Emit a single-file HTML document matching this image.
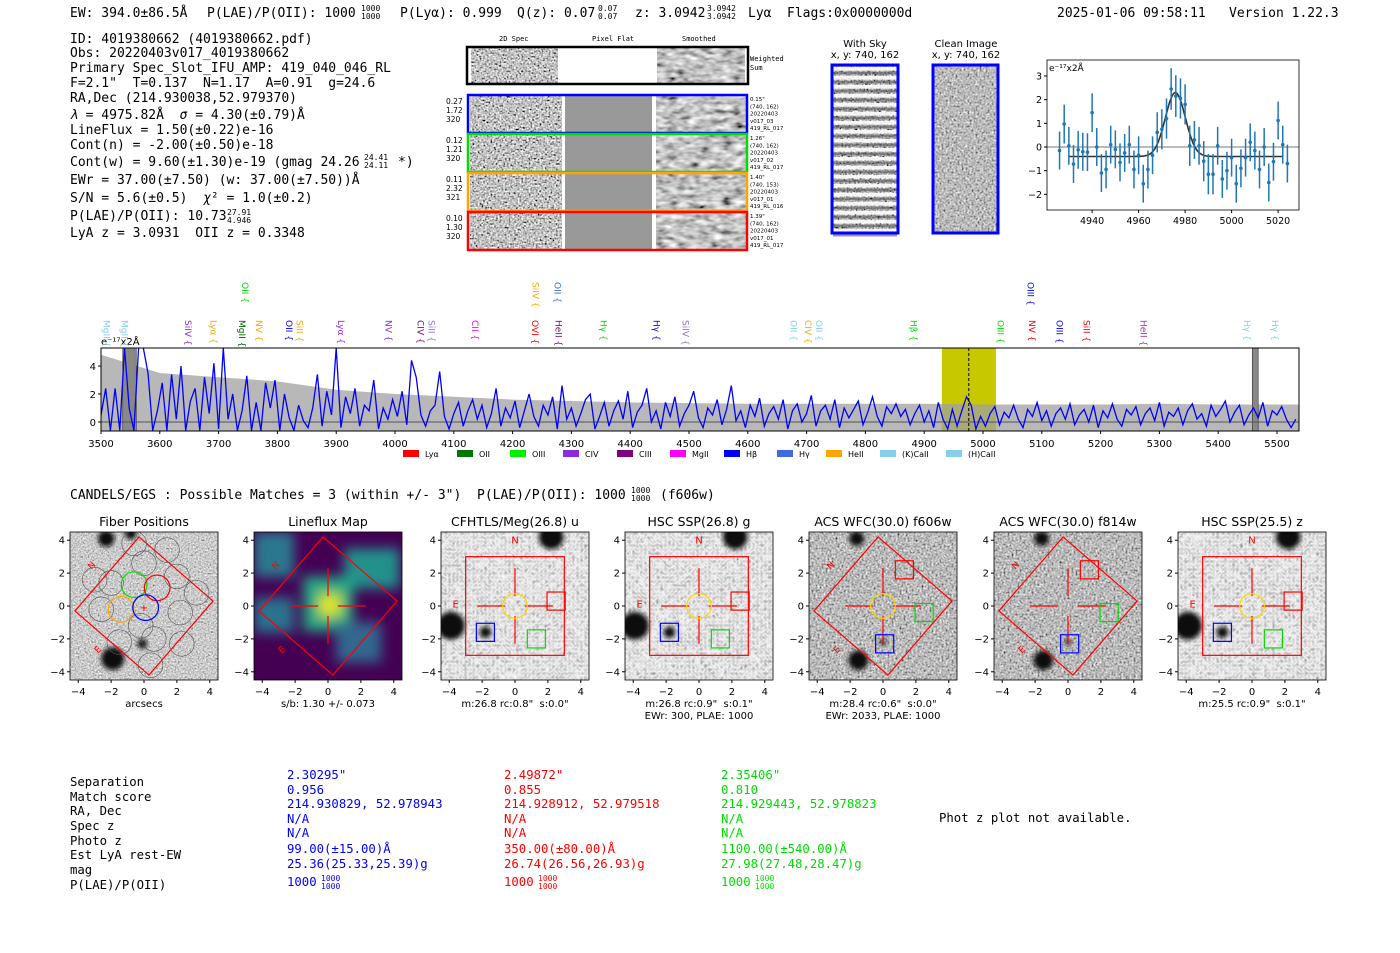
<!DOCTYPE html>
<html><head><meta charset="utf-8"><style>
html,body{margin:0;padding:0;background:#fff;width:1400px;height:953px;overflow:hidden}
svg text{font-family:"DejaVu Sans Mono","Liberation Mono",monospace;white-space:pre}
.sans{font-family:"DejaVu Sans","Liberation Sans",sans-serif}
</style></head><body>
<svg id="root" width="1400" height="953" viewBox="0 0 1400 953" xmlns="http://www.w3.org/2000/svg" xml:space="preserve">
<defs>
<filter id="nzFine" x="0" y="0" width="100%" height="100%"><feTurbulence type="fractalNoise" baseFrequency="0.55" numOctaves="1" seed="4"/><feColorMatrix type="matrix" values="0.33 0.33 0.33 0 0 0.33 0.33 0.33 0 0 0.33 0.33 0.33 0 0 0 0 0 0 1"/><feComponentTransfer><feFuncR type="linear" slope="3.2" intercept="-1.05"/><feFuncG type="linear" slope="3.2" intercept="-1.05"/><feFuncB type="linear" slope="3.2" intercept="-1.05"/></feComponentTransfer></filter>
<filter id="nzMid" x="0" y="0" width="100%" height="100%"><feTurbulence type="fractalNoise" baseFrequency="0.5" numOctaves="1" seed="5"/><feColorMatrix type="matrix" values="0.33 0.33 0.33 0 0 0.33 0.33 0.33 0 0 0.33 0.33 0.33 0 0 0 0 0 0 1"/><feComponentTransfer><feFuncR type="linear" slope="2.2" intercept="-0.6"/><feFuncG type="linear" slope="2.2" intercept="-0.6"/><feFuncB type="linear" slope="2.2" intercept="-0.6"/></feComponentTransfer></filter>
<filter id="nzSmooth" x="0" y="0" width="100%" height="100%"><feTurbulence type="fractalNoise" baseFrequency="0.09 0.2" numOctaves="2" seed="7"/><feColorMatrix type="matrix" values="0.33 0.33 0.33 0 0 0.33 0.33 0.33 0 0 0.33 0.33 0.33 0 0 0 0 0 0 1"/><feComponentTransfer><feFuncR type="linear" slope="2.4" intercept="-0.65"/><feFuncG type="linear" slope="2.4" intercept="-0.65"/><feFuncB type="linear" slope="2.4" intercept="-0.65"/></feComponentTransfer></filter>
<filter id="nzLight" x="0" y="0" width="100%" height="100%"><feTurbulence type="fractalNoise" baseFrequency="0.6" numOctaves="2" seed="2"/><feColorMatrix type="matrix" values="0.33 0.33 0.33 0 0 0.33 0.33 0.33 0 0 0.33 0.33 0.33 0 0 0 0 0 0 1"/><feComponentTransfer><feFuncR type="linear" slope="1.8" intercept="-0.3"/><feFuncG type="linear" slope="1.8" intercept="-0.3"/><feFuncB type="linear" slope="1.8" intercept="-0.3"/></feComponentTransfer></filter>
<filter id="nzCoarse" x="0" y="0" width="100%" height="100%"><feTurbulence type="turbulence" baseFrequency="0.25" numOctaves="1" seed="9"/><feColorMatrix type="matrix" values="0.33 0.33 0.33 0 0 0.33 0.33 0.33 0 0 0.33 0.33 0.33 0 0 0 0 0 0 1"/><feComponentTransfer><feFuncR type="linear" slope="-1.3" intercept="0.95"/><feFuncG type="linear" slope="-1.3" intercept="0.95"/><feFuncB type="linear" slope="-1.3" intercept="0.95"/></feComponentTransfer></filter>
<filter id="blur3"><feGaussianBlur stdDeviation="2.5"/></filter>
<filter id="blur6"><feGaussianBlur stdDeviation="6"/></filter>
<clipPath id="specClip"><rect x="101" y="348" width="1198" height="83"/></clipPath>
<clipPath id="fitClip"><rect x="1047" y="60" width="252" height="150"/></clipPath>
</defs>

<g font-size="13" fill="#000">
<text x="70" y="17">EW: 394.0±86.5Å</text>
<text x="207" y="17">P(LAE)/P(OII): 1000</text>
<text x="361" y="11" font-size="8">1000</text><text x="361" y="19" font-size="8">1000</text>
<text x="400" y="17">P(Lyα): 0.999</text>
<text x="517" y="17">Q(z): 0.07</text>
<text x="598" y="11" font-size="8">0.07</text><text x="598" y="19" font-size="8">0.07</text>
<text x="635" y="17">z: 3.0942</text>
<text x="707" y="11" font-size="8">3.0942</text><text x="707" y="19" font-size="8">3.0942</text>
<text x="748" y="17">Lyα</text>
<text x="787" y="17">Flags:0x0000000d</text>
<text x="1057" y="17">2025-01-06 09:58:11</text>
<text x="1229" y="17">Version 1.22.3</text>
</g>

<g font-size="13" fill="#000">
<text x="70" y="43">ID: 4019380662 (4019380662.pdf)</text>
<text x="70" y="57">Obs: 20220403v017_4019380662</text>
<text x="70" y="72">Primary Spec_Slot_IFU_AMP: 419_040_046_RL</text>
<text x="70" y="87">F=2.1"  T=0.137  N=1.17  A=0.91  g=24.6</text>
<text x="70" y="102">RA,Dec (214.930038,52.979370)</text>
<text x="70" y="119"><tspan font-style="italic">λ</tspan> = 4975.82Å  <tspan font-style="italic">σ</tspan> = 4.30(±0.79)Å</text>
<text x="70" y="134">LineFlux = 1.50(±0.22)e-16</text>
<text x="70" y="149">Cont(n) = -2.00(±0.50)e-18</text>
<text x="70" y="166">Cont(w) = 9.60(±1.30)e-19 (gmag 24.26</text>
<text x="398" y="166">*)</text>
<text x="364" y="160" font-size="8">24.41</text><text x="364" y="168" font-size="8">24.11</text>
<text x="70" y="184">EWr = 37.00(±7.50) (w: 37.00(±7.50))Å</text>
<text x="70" y="202">S/N = 5.6(±0.5)  <tspan font-style="italic">χ</tspan>² = 1.0(±0.2)</text>
<text x="70" y="220">P(LAE)/P(OII): 10.73</text>
<text x="227" y="215" font-size="8">27.91</text><text x="227" y="223" font-size="8">4.946</text>
<text x="70" y="237">LyA z = 3.0931  OII z = 0.3348</text>
</g>

<g id="spec2d">
<g class="sans" font-size="7" fill="#000">
<text x="499" y="41">2D Spec</text><text x="592" y="41">Pixel Flat</text><text x="682" y="41">Smoothed</text>
<text x="750" y="61">Weighted</text><text x="750" y="70">Sum</text>
</g>
</g>

<g>
<text class="sans" x="865" y="47" font-size="10" text-anchor="middle">With Sky</text>
<text class="sans" x="865" y="58" font-size="10" text-anchor="middle">x, y: 740, 162</text>
<text class="sans" x="966" y="47" font-size="10" text-anchor="middle">Clean Image</text>
<text class="sans" x="966" y="58" font-size="10" text-anchor="middle">x, y: 740, 162</text>
<g>
<rect x="831" y="64" width="68" height="170" fill="#888" filter="url(#nzFine)"/>
<g id="skyStripes"></g>
<rect x="832" y="65" width="66" height="168" fill="none" stroke="#0000ff" stroke-width="3"/>
</g>
<g>
<rect x="932" y="64" width="67" height="170" fill="#888" filter="url(#nzMid)"/>
<rect x="933" y="65" width="65" height="168" fill="none" stroke="#0000ff" stroke-width="3"/>
</g>
</g>

<g id="fitPlot"></g>
<g id="specPlot"></g>

<g font-size="13">
<text x="70" y="499">CANDELS/EGS : Possible Matches = 3 (within +/- 3")  P(LAE)/P(OII): 1000</text>
<text x="631" y="493" font-size="8">1000</text><text x="631" y="501" font-size="8">1000</text>
<text x="660" y="499">(f606w)</text>
</g>

<g id="cutouts"></g>

<g font-size="12.3">
<g fill="#000">
<text x="70" y="786">Separation</text><text x="70" y="801">Match score</text><text x="70" y="815">RA, Dec</text>
<text x="70" y="830">Spec z</text><text x="70" y="845">Photo z</text><text x="70" y="859">Est LyA rest-EW</text>
<text x="70" y="874">mag</text><text x="70" y="889">P(LAE)/P(OII)</text>
</g>
<g id="tableCols"></g>
<text x="939" y="822" fill="#000">Phot z plot not available.</text>
</g>
</svg>

<script>
const NS='http://www.w3.org/2000/svg';
function mk(tag,attrs,parent){const e=document.createElementNS(NS,tag);for(const k in attrs)e.setAttribute(k,attrs[k]);if(parent)parent.appendChild(e);return e;}

const specStart=3500, specStep=8;
const specFlux=[0.5,2.4,-0.6,2.4,-0.6,5.3,1.0,-0.6,5.3,5.3,
3.5,-0.6,0.8,2.8,-0.6,3.4,0.2,4.0,-0.6,1.5,
2.4,-0.6,3.2,0.6,4.2,-0.5,5.3,0.2,2.0,-0.6,
0.8,3.3,-0.6,1.4,-0.6,2.8,1.0,3.0,-0.6,2.0,
0.3,-0.6,1.2,0.1,-0.4,1.0,3.4,-0.3,2.2,0.5,
5.3,-0.4,1.8,0.6,2.4,-0.3,1.2,0.8,3.0,-0.5,
1.0,0.2,1.6,0.4,2.2,-0.2,4.4,3.2,0.5,-0.3,
0.8,1.2,3.6,0.4,-0.5,0.6,1.4,-0.3,0.8,1.6,
0.2,1.2,-0.4,0.6,2.4,-0.3,1.0,0.3,1.5,-0.4,
0.8,2.0,0.4,-0.3,1.2,0.5,1.8,-0.5,2.6,0.2,
1.0,-0.3,0.6,1.6,2.0,-0.5,0.4,1.4,-0.3,0.8,
1.5,0.2,2.2,-0.4,0.7,1.2,2.4,0.0,0.8,-0.5,
1.4,0.4,1.8,-0.3,0.6,1.2,2.2,0.3,-0.4,1.0,
0.5,1.6,-0.2,0.9,2.6,0.1,0.8,-0.4,1.2,0.4,
1.7,-0.3,0.6,1.1,0.2,1.6,-0.5,0.8,1.3,0.0,
0.6,1.9,-0.3,0.8,1.2,0.2,1.6,-0.4,1.0,0.3,
0.9,1.5,-0.2,0.7,1.8,0.4,-0.3,1.1,0.6,1.3,
0.4,0.9,-0.2,0.6,1.2,0.0,0.8,-0.4,1.4,0.2,
-0.5,0.9,-0.3,0.8,1.8,1.2,-0.5,0.4,-0.3,0.6,
1.1,-0.2,0.7,0.3,1.2,0.2,-0.4,0.9,0.4,1.4,
0.1,0.8,-0.3,0.6,1.0,0.2,1.3,-0.2,0.5,0.9,
0.0,1.2,-0.4,0.8,0.3,1.3,0.2,-0.3,0.9,0.5,
1.1,-0.2,0.6,1.0,0.1,1.4,-0.3,0.7,0.4,1.0,
-0.2,0.8,1.3,0.2,0.6,-0.3,1.2,0.4,0.9,1.5,
0.0,0.7,1.2,-0.2,0.5,1.0,0.3,1.4,-0.3,0.8,
0.5,1.1,0.2,-0.4,0.2];
const errWave=[3500,3600,3700,3800,3900,4000,4100,4200,4300,4400,4500,4600,4700,4800,4900,5000,5100,5200,5300,5400,5500,5537];
const errVal=[4.8,3.5,3.2,2.9,2.3,2.0,1.8,1.6,1.5,1.4,1.35,1.3,1.3,1.3,1.3,1.25,1.25,1.25,1.3,1.25,1.25,1.25];
const specXTicks=[3500,3600,3700,3800,3900,4000,4100,4200,4300,4400,4500,4600,4700,4800,4900,5000,5100,5200,5300,5400,5500];
const specYTicks=[0,2,4];
const lineWave=[3509,3540,3648,3691,3740,3769,3820,3838,3908,3989,4043,4062,4136,4238,4278,4355,4445,4494,4678,4702,4721,4882,5030,5083,5130,5176,5273,5449,5497,3745,4239,4276,5081];
const lineName=["MgII","MgII","SiIV","Lyα","MgII","NV","OII","SiII","Lyα","NV","CIV","SiII","CII","OVI","HeII","Hγ","Hγ","SiIV","OII","CIV","OII","Hβ","OIII","NV","OIII","SiII","HeII","Hγ","Hγ","OII","SiIV","OII","OIII"];
const lineColor=["#87ceeb","#87ceeb","#8a2be2","#ffa500","#006400","#ffa500","#0000ff","#ffa500","#8a2be2","#8a2be2","#800080","#9370db","#ff00ff","#ff0000","#800080","#00dd00","#0000ff","#9370db","#87ceeb","#ffa500","#87ceeb","#00dd00","#00dd00","#ff0000","#0000ff","#ff0000","#9932cc","#87ceeb","#87ceeb","#00dd00","#ffa500","#4169e1","#0000ff"];
const lineRow=[0,0,0,0,0,0,0,0,0,0,0,0,0,0,0,0,0,0,0,0,0,0,0,0,0,0,0,0,0,1,1,1,1];
const legendNames=["Lyα","OII","OIII","CIV","CIII","MgII","Hβ","Hγ","HeII","(K)CaII","(H)CaII"];
const legendColors=["#ff0000","#007700","#00ee00","#8a2be2","#800080","#ff00ff","#0000ff","#4169e1","#ffa500","#87ceeb","#87ceeb"];

const fitWave=[4926,4928,4930,4932,4934,4936,4938,4940,4942,4944,4946,4948,4950,4952,4954,4956,4958,4960,4962,4964,4966,4968,4970,4972,4974,4976,4978,4980,4982,4984,4986,4988,4990,4992,4994,4996,4998,5000,5002,5004,5006,5008,5010,5012,5014,5016,5018,5020,5022,5024];
const fitFlux=[-0.15,0.97,0.05,-0.72,-0.12,-0.2,-0.22,1.45,0.0,-1.1,-0.95,0.1,-0.1,-0.65,-0.25,0.1,-0.95,-0.35,-1.55,-0.95,-0.35,0.62,0.75,1.2,2.45,2.15,2.05,1.8,0.05,0.3,0.05,-0.6,-1.15,-1.15,0.05,-1.35,-1.0,-0.45,-1.55,-0.9,-0.45,0.2,-0.15,-0.95,0.0,-1.5,-0.62,1.12,0.1,-0.7];
const fitErr=[0.8,0.82,0.8,0.8,0.8,0.8,0.8,0.82,0.8,0.8,0.8,0.8,0.8,0.8,0.8,0.8,0.8,0.8,0.8,0.8,0.8,0.85,0.85,0.85,0.88,0.88,0.85,0.85,0.85,0.8,0.8,0.85,0.85,0.85,0.8,0.8,0.8,0.8,0.8,0.8,0.8,0.8,0.8,0.8,0.8,0.8,0.8,0.8,0.8,0.8];
const fitModel={center:4975.82,sigma:4.3,amp:2.7,base:-0.4,lo:4930,hi:5022};
const fitXTicks=[4940,4960,4980,5000,5020];
const fitYTicks=[-2,-1,0,1,2,3];

(function(){
const g=document.getElementById('specPlot');
const sx=w=>101+(w-3500)*0.588, sy=v=>422-v*14;
const cg=mk('g',{'clip-path':'url(#specClip)'},g);
const y1=mk('rect',{x:sx(4930),y:348,width:sx(5022)-sx(4930),height:83,fill:'#c8c800'},cg);


let d='M'+sx(errWave[0])+','+431;
errWave.forEach((w,i)=>{d+=' L'+sx(w)+','+sy(errVal[i]);});
d+=' L'+sx(errWave[errWave.length-1])+',431 Z';
const env=mk('path',{d:d,fill:'#a0a0a0','fill-opacity':'0.75'},cg);


[[3537,3560],[5458,5468]].forEach(b=>{const r=mk('rect',{x:sx(b[0]),y:348,width:sx(b[1])-sx(b[0]),height:83,fill:'#888','stroke':'#333','stroke-width':0.6},cg);

});
mk('line',{x1:101,x2:1299,y1:sy(0),y2:sy(0),stroke:'#555','stroke-width':1},cg);
let p='';specFlux.forEach((v,i)=>{p+=(i?' L':'M')+sx(specStart+i*specStep).toFixed(1)+','+sy(v).toFixed(1);});
const fl=mk('path',{d:p,fill:'none',stroke:'#0000ff','stroke-width':1.3},cg);


mk('line',{x1:sx(4975.8),x2:sx(4975.8),y1:348,y2:431,stroke:'#000','stroke-dasharray':'3,2','stroke-width':1},cg);
mk('rect',{x:101,y:348,width:1198,height:83,fill:'none',stroke:'#000','stroke-width':1},g);
const tl=mk('text',{x:101,y:345,'font-size':10,class:'sans'},g);tl.textContent='e⁻¹⁷x2Å';


specXTicks.forEach(t=>{mk('line',{x1:sx(t),x2:sx(t),y1:431,y2:434,stroke:'#000'},g);
const tx=mk('text',{x:sx(t),y:447,'font-size':10,'text-anchor':'middle',class:'sans'},g);tx.textContent=t;

});
specYTicks.forEach(t=>{mk('line',{x1:98,x2:101,y1:sy(t),y2:sy(t),stroke:'#000'},g);
const tx=mk('text',{x:96,y:sy(t)+4,'font-size':10,'text-anchor':'end',class:'sans'},g);tx.textContent=t;

});
lineWave.forEach((w,i)=>{const x=sx(w);const top=lineRow[i]?282:320;
const t=mk('text',{x:0,y:0,'font-size':9,class:'sans',fill:lineColor[i],transform:'translate('+(x-3)+','+top+') rotate(90)'},g);
t.textContent=lineName[i]+' {';

});
const lx=[403,457,510,563,617,670,724,777,826,880,946];
legendNames.forEach((n,i)=>{const lg=mk('g',{},g);


mk('rect',{x:lx[i],y:450,width:16,height:7,fill:legendColors[i]},lg);
const t=mk('text',{x:lx[i]+22,y:457,'font-size':8,class:'sans'},lg);t.textContent=n;});
})();

(function(){
const g=document.getElementById('fitPlot');
const fx=w=>1047+(w-4920.6)*2.325, fy=v=>147-v*23.67;
const cg=mk('g',{'clip-path':'url(#fitClip)'},g);
mk('line',{x1:1047,x2:1299,y1:fy(0),y2:fy(0),stroke:'#777','stroke-width':1},cg);
let d='';for(let w=fitModel.lo;w<=fitModel.hi;w+=0.5){const v=fitModel.base+fitModel.amp*Math.exp(-0.5*Math.pow((w-fitModel.center)/fitModel.sigma,2));d+=(d?' L':'M')+fx(w).toFixed(1)+','+fy(v).toFixed(1);}
const m=mk('path',{d:d,fill:'none',stroke:'#333','stroke-width':1.6},cg);


fitWave.forEach((w,i)=>{const pg=mk('g',{},cg);


mk('line',{x1:fx(w),x2:fx(w),y1:fy(fitFlux[i]-fitErr[i]),y2:fy(fitFlux[i]+fitErr[i]),stroke:'#1f77b4','stroke-width':1.5},pg);
mk('circle',{cx:fx(w),cy:fy(fitFlux[i]),r:1.8,fill:'#1f77b4'},pg);});
mk('rect',{x:1047,y:60,width:252,height:150,fill:'none',stroke:'#000','stroke-width':0.8},g);
const ul=mk('text',{x:1049,y:71,'font-size':9,class:'sans'},g);ul.textContent='e⁻¹⁷x2Å';
fitXTicks.forEach(t=>{mk('line',{x1:fx(t),x2:fx(t),y1:210,y2:213,stroke:'#000'},g);
const tx=mk('text',{x:fx(t),y:224,'font-size':9.5,'text-anchor':'middle',class:'sans'},g);tx.textContent=t;});
fitYTicks.forEach(t=>{mk('line',{x1:1044,x2:1047,y1:fy(t),y2:fy(t),stroke:'#000'},g);
const tx=mk('text',{x:1042,y:fy(t)+3.5,'font-size':9.5,'text-anchor':'end',class:'sans'},g);tx.textContent=t<0?'−'+(-t):t;});
})();

(function(){
const g=document.getElementById('spec2d');
mk('rect',{x:471,y:48,width:87,height:35,fill:'#888',filter:'url(#nzFine)'},g);
mk('rect',{x:657,y:48,width:88,height:35,fill:'#888',filter:'url(#nzSmooth)'},g);
mk('rect',{x:467,y:47,width:281,height:37,fill:'none',stroke:'#000','stroke-width':2.5},g);
const rows=[{y:95,c:'#0000ff',v:['0.27','1.72','320'],r:['0.15"','(740, 162)','20220403','v017_03','419_RL_017']},
{y:134,c:'#00dd00',v:['0.12','1.21','320'],r:['1.26"','(740, 162)','20220403','v017_02','419_RL_017']},
{y:173,c:'#ffa500',v:['0.11','2.32','321'],r:['1.40"','(740, 153)','20220403','v017_01','419_RL_016']},
{y:212,c:'#ff0000',v:['0.10','1.30','320'],r:['1.39"','(740, 162)','20220403','v017_01','419_RL_017']}];
rows.forEach(r=>{const rg=mk('g',{},g);


mk('rect',{x:470,y:r.y,width:92,height:38,fill:'#888',filter:'url(#nzFine)'},rg);
mk('rect',{x:565,y:r.y,width:87,height:38,fill:'#999'},rg);
mk('rect',{x:656,y:r.y,width:90,height:38,fill:'#888',filter:'url(#nzSmooth)'},rg);
mk('rect',{x:468,y:r.y,width:279,height:38,fill:'none',stroke:r.c,'stroke-width':2.5},rg);
r.v.forEach((t,i)=>{const e=mk('text',{x:446,y:r.y+9+i*9,'font-size':7.5,class:'sans'},rg);e.textContent=t;});
r.r.forEach((t,i)=>{const e=mk('text',{x:750,y:r.y+6+i*7.3,'font-size':5.5,class:'sans'},rg);e.textContent=t;});});
const s=document.getElementById('skyStripes');
for(let i=0;i<19;i++){mk('rect',{x:833,y:67+i*9,width:64,height:3.5,fill:'#fff','fill-opacity':0.85},s);
mk('rect',{x:833,y:71.5+i*9,width:64,height:3,fill:'#333','fill-opacity':0.5},s);}
})();

const cutTitles=["Fiber Positions","Lineflux Map","CFHTLS/Meg(26.8) u","HSC SSP(26.8) g","ACS WFC(30.0) f606w","ACS WFC(30.0) f814w","HSC SSP(25.5) z"];
const cutCaption1=["arcsecs","s/b: 1.30 +/- 0.073","m:26.8 rc:0.8\"  s:0.0\"","m:26.8 rc:0.9\"  s:0.1\"","m:28.4 rc:0.6\"  s:0.0\"","","m:25.5 rc:0.9\"  s:0.1\""];
const cutCaption2=["","","","EWr: 300, PLAE: 1000","EWr: 2033, PLAE: 1000","",""];
const cutTicks=[-4,-2,0,2,4];
(function(){
const root=document.getElementById('cutouts');
const lefts=[70,254,441,625,809,994,1178];
cutTitles.forEach((title,k)=>{
const L=lefts[k],T=532,S=148,sc=S/9,cx=L+S/2,cy=T+S/2;
const X=a=>cx+a*sc, Y=a=>cy-a*sc;
const g=mk('g',{},root);


const cp=mk('clipPath',{id:'cc'+k},g);mk('rect',{x:L,y:T,width:S,height:S},cp);
const ig=mk('g',{'clip-path':'url(#cc'+k+')'},g);
const isHSC=(k==2||k==3||k==6);
if(k==1){
 mk('rect',{x:L,y:T,width:S,height:S,fill:'#440154'},ig);
 const bl=mk('g',{filter:'url(#blur6)'},ig);
 mk('rect',{x:X(-4.5),y:Y(4.5),width:40,height:45,fill:'#2a788e'},bl);
 mk('rect',{x:X(1),y:Y(3.5),width:55,height:40,fill:'#21918c'},bl);
 mk('rect',{x:X(-1.5),y:Y(1.8),width:50,height:55,fill:'#22a884'},bl);
 mk('rect',{x:X(-4.5),y:Y(0.5),width:40,height:35,fill:'#2c728e'},bl);
 mk('rect',{x:X(0.5),y:Y(-1),width:45,height:40,fill:'#31688e'},bl);
 mk('rect',{x:X(-0.6),y:Y(0.8),width:24,height:24,fill:'#b5de2b'},bl);
 mk('rect',{x:X(-0.3),y:Y(0.4),width:12,height:12,fill:'#fde725'},bl);
}else{
 const f=isHSC?'url(#nzCoarse)':(k==0?'url(#nzLight)':'url(#nzMid)');
 mk('rect',{x:L,y:T,width:S,height:S,fill:'#999',filter:f},ig);
 const bl=mk('g',{filter:'url(#blur3)'},ig);
 let blobs=[];
 if(k==0)blobs=[[-1.9,-3.2,0.7],[-0.1,-2.3,0.3],[-2.3,4.1,0.5],[-0.8,4.4,0.35]];
 if(isHSC)blobs=[[-3.9,-1.2,0.85],[2.2,4.2,0.75],[-1.8,-1.6,0.35]];
 if(k==4||k==5)blobs=[[-1.5,-3.3,0.6],[-1.6,4.1,0.45],[0,-2.2,0.18]];
 blobs.forEach(b=>mk('circle',{cx:X(b[0]),cy:Y(b[1]),r:b[2]*sc,fill:'#111'},bl));
 if(isHSC){[[-3.9,-1.2,1.2],[-1.8,-1.6,1.0],[2.2,4.2,1.2]].forEach(b=>mk('circle',{cx:X(b[0]),cy:Y(b[1]),r:b[2]*sc,fill:'none',stroke:'#eee','stroke-dasharray':'2,2','stroke-width':0.8},ig));}
 if(k==4){[[-1.5,-3.3],[0,-2.2],[2.7,-0.4],[1.3,2.3],[-3.4,4.0],[-1.5,4.4],[4.2,4.2]].forEach(b=>mk('circle',{cx:X(b[0]),cy:Y(b[1]),r:1.1*sc,fill:'none',stroke:'#eee','stroke-dasharray':'2,2','stroke-width':0.8},ig));}
}
const red='#ff0000';
if(isHSC){
 mk('rect',{x:X(-3),y:Y(3),width:6*sc,height:6*sc,fill:'none',stroke:red,'stroke-width':1.2},ig);
 const n=mk('text',{x:X(0),y:Y(3.8),'font-size':10,fill:red,'text-anchor':'middle',class:'sans'},ig);n.textContent='N';
 const e=mk('text',{x:X(-3.8),y:Y(-0.1),'font-size':10,fill:red,class:'sans'},ig);e.textContent='E';
}else{
 mk('polygon',{points:[[-0.3,4.2],[4.2,0.3],[0.3,-4.2],[-4.2,-0.3]].map(p=>X(p[0])+','+Y(p[1])).join(' '),fill:'none',stroke:red,'stroke-width':1.2},ig);
 const n=mk('text',{x:0,y:0,'font-size':9,fill:red,class:'sans',transform:'translate('+X(-3.2)+','+Y(2.2)+') rotate(-45)'},ig);n.textContent='N';
 const e=mk('text',{x:0,y:0,'font-size':9,fill:red,class:'sans',transform:'translate('+X(-2.8)+','+Y(-2.9)+') rotate(-45)'},ig);e.textContent='E';
}
if(k==0){
 [[-2,1.4],[0,2.6],[2,1.8],[-2.6,-0.2],[2.2,-0.4],[-1.5,-2.2],[0.6,-2.0],[2.3,-2.3],[-0.6,3.8],[1.4,3.4],[3.2,0.8],[-3.0,1.6],[0.4,-3.6],[-0.2,-1.2]].forEach(c=>mk('circle',{cx:X(c[0]),cy:Y(c[1]),r:0.75*sc,fill:'none',stroke:'#555','stroke-width':0.6},ig));
 [[-0.6,1.3,'#00dd00'],[0.8,1.1,'#ff0000'],[-1.4,-0.2,'#ffa500'],[0.1,-0.1,'#0000ff']].forEach(c=>mk('circle',{cx:X(c[0]),cy:Y(c[1]),r:0.78*sc,fill:'none',stroke:c[2],'stroke-width':1.2},ig));
 const pl=mk('text',{x:X(0),y:Y(-0.3),'font-size':10,fill:red,'text-anchor':'middle',class:'sans'},ig);pl.textContent='+';
}else{
 [[-2.3,-0.6],[0.6,2.3]].forEach(s=>mk('line',{x1:X(s[0]),x2:X(s[1]),y1:Y(0),y2:Y(0),stroke:red,'stroke-width':1.2},ig));
 [[0.6,2.3],[-2.3,-0.6]].forEach(s=>mk('line',{x1:X(0),x2:X(0),y1:Y(s[0]),y2:Y(s[1]),stroke:red,'stroke-width':1.2},ig));
 if(k!=1&&k!=5)mk('circle',{cx:X(0),cy:Y(0),r:0.75*sc,fill:'none',stroke:'#ffd700','stroke-width':1.2},ig);
 if(k>=2){
  const sqs=isHSC?[[2.5,0.3,'#ff0000'],[-1.8,-1.6,'#0000ff'],[1.3,-2,'#00dd00']]:[[1.3,2.2,'#ff0000'],[2.5,-0.4,'#00dd00'],[0.1,-2.3,'#0000ff']];
  sqs.forEach(s=>mk('rect',{x:X(s[0])-0.55*sc,y:Y(s[1])-0.55*sc,width:1.1*sc,height:1.1*sc,fill:'none',stroke:s[2],'stroke-width':1.2},ig));
 }
}
mk('rect',{x:L,y:T,width:S,height:S,fill:'none',stroke:'#000','stroke-width':0.8},g);
const tt=mk('text',{x:cx,y:526,'font-size':12.5,'text-anchor':'middle',class:'sans'},g);tt.textContent=title;
cutTicks.forEach(t=>{
 mk('line',{x1:X(t),x2:X(t),y1:T+S,y2:T+S+3,stroke:'#000'},g);
 const a=mk('text',{x:X(t),y:695,'font-size':10,'text-anchor':'middle',class:'sans'},g);a.textContent=t<0?'−'+(-t):t;
 mk('line',{x1:L-3,x2:L,y1:Y(t),y2:Y(t),stroke:'#000'},g);
 const b=mk('text',{x:L-5,y:Y(t)+3.5,'font-size':10,'text-anchor':'end',class:'sans'},g);b.textContent=t<0?'−'+(-t):t;});
const c1=mk('text',{x:cx,y:707,'font-size':10,'text-anchor':'middle',class:'sans'},g);c1.textContent=cutCaption1[k];
const c2=mk('text',{x:cx,y:719,'font-size':10,'text-anchor':'middle',class:'sans'},g);c2.textContent=cutCaption2[k];
});
})();

(function(){
const cols=[{x:287,c:'#0000ff',v:['2.30295"','0.956','214.930829, 52.978943','N/A','N/A','99.00(±15.00)Å','25.36(25.33,25.39)g','1000']},
{x:504,c:'#ff0000',v:['2.49872"','0.855','214.928912, 52.979518','N/A','N/A','350.00(±80.00)Å','26.74(26.56,26.93)g','1000']},
{x:721,c:'#00dd00',v:['2.35406"','0.810','214.929443, 52.978823','N/A','N/A','1100.00(±540.00)Å','27.98(27.48,28.47)g','1000']}];
const g=document.getElementById('tableCols');
const ys=[779,794,808,823,837,853,868,886];
cols.forEach(c=>{const cg=mk('g',{fill:c.c},g);


c.v.forEach((t,i)=>{const e=mk('text',{x:c.x,y:ys[i]},cg);e.textContent=t;});
const a=mk('text',{x:c.x+34,y:881,'font-size':8},cg);a.textContent='1000';
const b=mk('text',{x:c.x+34,y:889,'font-size':8},cg);b.textContent='1000';});
})();
</script>
</body></html>
